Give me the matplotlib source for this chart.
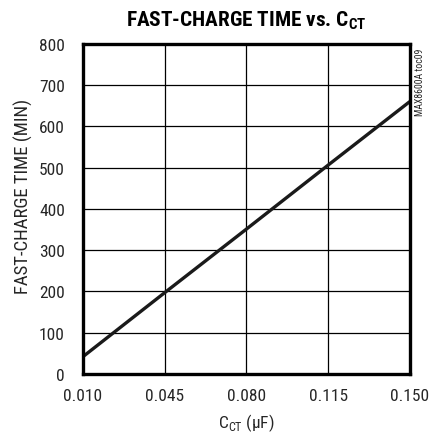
import matplotlib
matplotlib.use('Agg')
import matplotlib.pyplot as plt

# capacitance C_CT (uF) vs fast-charge time (min)
c_ct = [0.010, 0.045, 0.080, 0.115, 0.150]
charge_time = [42, 197, 351, 506, 660]

x_ticks = [0.010, 0.045, 0.080, 0.115, 0.150]
x_ticklabels = ['0.010', '0.045', '0.080', '0.115', '0.150']
y_ticks = [0, 100, 200, 300, 400, 500, 600, 700, 800]

plt.rcParams['font.family'] = ['Roboto Condensed', 'Archivo Narrow', 'DejaVu Sans']
plt.rcParams['mathtext.fontset'] = 'custom'
plt.rcParams['mathtext.rm'] = 'Roboto Condensed'
plt.rcParams['mathtext.bf'] = 'Roboto Condensed:bold'

fig = plt.figure(figsize=(4.30, 4.35), dpi=100)
ax = fig.add_axes([0.193, 0.138, 0.760, 0.759])

ax.plot(c_ct, charge_time, color='#1a1a1a', linewidth=2.4, solid_capstyle='butt')

ax.set_xlim(0.010, 0.150)
ax.set_ylim(0, 800)
ax.set_xticks(x_ticks)
ax.set_xticklabels(x_ticklabels)
ax.set_yticks(y_ticks)
ax.grid(True, color='black', linewidth=0.9)
ax.tick_params(length=0, labelsize=12.5, colors='#262626')
ax.tick_params(axis='y', pad=13)
ax.tick_params(axis='x', pad=10)

for s in ax.spines.values():
    s.set_linewidth(2.4)
    s.set_color('black')

ax.set_title(r'FAST-CHARGE TIME vs. C$_{\mathbf{CT}}$', fontsize=15.3,
             fontweight='bold', pad=13)
ax.set_ylabel('FAST-CHARGE TIME (MIN)', fontsize=13.5, color='#262626')
ax.yaxis.set_label_coords(-0.153, 0.542)
ax.set_xlabel(r'C$_{\mathrm{CT}}$ (μF)', fontsize=12.5, color='#262626', labelpad=6)

fig.text(0.977, 0.81, 'MAX8600A toc09', rotation=90, fontsize=7,
         ha='center', va='center', color='#262626')

plt.savefig('out.png', dpi=100)
plt.close()
